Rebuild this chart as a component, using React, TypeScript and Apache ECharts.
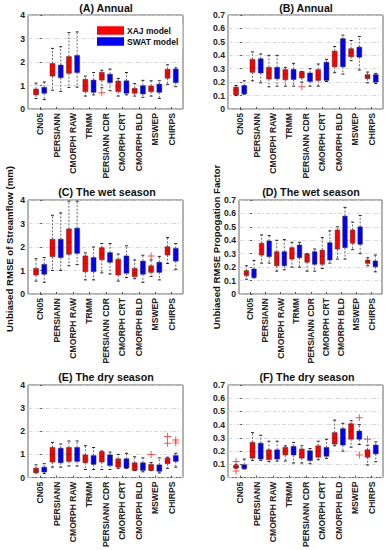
import React, { useEffect, useRef } from "react";
import * as echarts from "echarts";

const categories = ["CN05", "PERSIANN", "CMORPH RAW", "TRMM", "PERSIANN CDR", "CMORPH CRT", "CMORPH BLD", "MSWEP", "CHIRPS"];

// [min, q1, median, q3, max] per category
const annualXaj = [
  [0.45, 0.6, 0.72, 0.85, 1.1], [0.8, 1.4, 1.6, 1.94, 2.58], [0.92, 1.52, 1.8, 2.23, 3.25],
  [0.55, 0.74, 1.0, 1.26, 1.4], [0.9, 1.23, 1.42, 1.56, 1.65], [0.55, 0.74, 0.95, 1.19, 1.3],
  [0.55, 0.67, 0.8, 0.88, 1.08], [0.55, 0.74, 0.85, 0.98, 1.2], [1.05, 1.31, 1.5, 1.69, 1.88],
];
const annualSwat = [
  [0.4, 0.67, 0.8, 0.92, 1.15], [0.75, 1.33, 1.6, 1.87, 2.65], [0.93, 1.55, 1.9, 2.28, 3.28],
  [0.6, 0.71, 0.95, 1.23, 1.55], [0.78, 1.12, 1.3, 1.48, 1.7], [0.6, 0.67, 0.9, 1.2, 1.55],
  [0.5, 0.64, 0.82, 0.99, 1.22], [0.45, 0.71, 0.88, 1.06, 1.2], [0.95, 1.12, 1.45, 1.7, 1.75],
];
const annualXajOut = [[4, 0.69]];
const annualSwatOut: number[][] = [];

const annualPfXaj = [
  [0.1, 0.105, 0.14, 0.163, 0.175], [0.21, 0.273, 0.31, 0.37, 0.425], [0.165, 0.223, 0.27, 0.31, 0.4],
  [0.17, 0.218, 0.26, 0.293, 0.31], [0.2, 0.231, 0.26, 0.278, 0.28], [0.17, 0.213, 0.25, 0.293, 0.335],
  [0.27, 0.314, 0.4, 0.431, 0.465], [0.36, 0.389, 0.42, 0.449, 0.51], [0.195, 0.226, 0.24, 0.256, 0.275],
];
const annualPfSwat = [
  [0.11, 0.113, 0.14, 0.175, 0.21], [0.195, 0.268, 0.33, 0.374, 0.41], [0.17, 0.225, 0.27, 0.31, 0.4],
  [0.17, 0.22, 0.26, 0.295, 0.34], [0.17, 0.205, 0.24, 0.268, 0.3], [0.205, 0.213, 0.3, 0.348, 0.37],
  [0.26, 0.314, 0.42, 0.524, 0.55], [0.29, 0.386, 0.43, 0.461, 0.54], [0.19, 0.2, 0.23, 0.256, 0.265],
];
const annualPfXajOut = [[4, 0.165]];
const annualPfSwatOut: number[][] = [];

const wetXaj = [
  [0.55, 0.81, 0.95, 1.09, 1.5], [1.0, 1.59, 1.95, 2.33, 3.35], [1.2, 1.69, 2.2, 2.77, 3.95],
  [0.6, 0.95, 1.3, 1.62, 1.75], [0.9, 1.46, 1.7, 1.97, 2.15], [0.55, 0.81, 1.1, 1.48, 1.7],
  [0.65, 0.74, 0.9, 1.09, 1.45], [0.75, 0.92, 1.05, 1.2, 1.45], [1.3, 1.66, 1.85, 2.01, 2.4],
];
const wetSwat = [
  [0.5, 0.84, 1.05, 1.26, 1.55], [1.0, 1.55, 1.95, 2.33, 3.45], [1.25, 1.73, 2.3, 2.8, 3.95],
  [0.6, 0.95, 1.25, 1.55, 2.0], [0.85, 1.35, 1.55, 1.76, 2.15], [0.7, 0.88, 1.25, 1.62, 2.05],
  [0.5, 0.84, 1.1, 1.4, 1.65], [0.6, 0.92, 1.15, 1.35, 1.6], [1.05, 1.4, 1.7, 1.94, 2.15],
];
const wetXajOut = [[7, 1.62]];
const wetSwatOut: number[][] = [];

const wetPfXaj = [
  [0.11, 0.137, 0.155, 0.174, 0.21], [0.23, 0.29, 0.33, 0.378, 0.44], [0.17, 0.21, 0.27, 0.315, 0.4],
  [0.2, 0.26, 0.3, 0.345, 0.385], [0.17, 0.236, 0.27, 0.298, 0.3], [0.19, 0.221, 0.28, 0.327, 0.42],
  [0.26, 0.335, 0.42, 0.477, 0.5], [0.33, 0.378, 0.43, 0.477, 0.535], [0.21, 0.228, 0.24, 0.253, 0.27],
];
const wetPfSwat = [
  [0.12, 0.122, 0.15, 0.186, 0.25], [0.23, 0.278, 0.34, 0.395, 0.435], [0.18, 0.21, 0.27, 0.315, 0.405],
  [0.2, 0.27, 0.32, 0.365, 0.385], [0.17, 0.221, 0.27, 0.315, 0.335], [0.23, 0.253, 0.32, 0.382, 0.47],
  [0.26, 0.345, 0.47, 0.58, 0.645], [0.3, 0.37, 0.44, 0.5, 0.585], [0.165, 0.203, 0.22, 0.246, 0.29],
];
const wetPfXajOut: number[][] = [];
const wetPfSwatOut: number[][] = [];

const dryXaj = [
  [0.2, 0.21, 0.3, 0.41, 0.55], [0.45, 0.67, 1.0, 1.3, 1.52], [0.5, 0.7, 1.0, 1.3, 1.58],
  [0.35, 0.64, 0.8, 0.98, 1.38], [0.35, 0.67, 0.9, 1.12, 1.15], [0.4, 0.45, 0.65, 0.81, 1.0],
  [0.3, 0.31, 0.5, 0.64, 0.9], [0.3, 0.31, 0.45, 0.57, 0.65], [0.4, 0.6, 0.7, 0.84, 0.88],
];
const drySwat = [
  [0.18, 0.24, 0.35, 0.45, 0.6], [0.45, 0.64, 0.95, 1.27, 1.45], [0.5, 0.7, 1.0, 1.3, 1.58],
  [0.35, 0.57, 0.75, 0.95, 1.3], [0.35, 0.52, 0.75, 0.98, 1.1], [0.4, 0.41, 0.6, 0.81, 1.05],
  [0.25, 0.31, 0.5, 0.64, 0.85], [0.2, 0.27, 0.4, 0.55, 0.85], [0.45, 0.7, 0.8, 0.95, 1.05],
];
const dryXajOut = [[7, 1.0], [8, 1.78], [8, 1.48]];
const drySwatOut = [[8, 1.62], [8, 1.5]];

const dryPfXaj = [
  [0.07, 0.072, 0.085, 0.092, 0.1], [0.13, 0.147, 0.2, 0.266, 0.34], [0.12, 0.136, 0.17, 0.21, 0.275],
  [0.125, 0.171, 0.2, 0.228, 0.24], [0.11, 0.147, 0.18, 0.216, 0.24], [0.135, 0.154, 0.2, 0.24, 0.275],
  [0.24, 0.253, 0.3, 0.34, 0.435], [0.23, 0.29, 0.35, 0.407, 0.43], [0.095, 0.154, 0.18, 0.21, 0.245],
];
const dryPfSwat = [
  [0.065, 0.067, 0.085, 0.097, 0.14], [0.13, 0.14, 0.2, 0.26, 0.32], [0.125, 0.14, 0.17, 0.21, 0.275],
  [0.11, 0.171, 0.21, 0.236, 0.265], [0.105, 0.129, 0.16, 0.203, 0.22], [0.145, 0.161, 0.19, 0.228, 0.29],
  [0.2, 0.246, 0.3, 0.37, 0.41], [0.25, 0.29, 0.33, 0.352, 0.4], [0.12, 0.179, 0.21, 0.246, 0.27],
];
const dryPfXajOut = [[0, 0.121], [0, 0.05], [8, 0.29]];
const dryPfSwatOut = [[7, 0.452], [7, 0.17]];

const panelTitles = ["(A) Annual", "(B) Annual", "(C) The wet season", "(D) The wet season", "(E) The dry season", "(F) The dry season"];
const yMaxes = [4, 0.7, 4, 0.7, 4, 0.7];
const yIntervals = [1, 0.1, 1, 0.1, 1, 0.1];
const seriesNames = ["XAJ model", "SWAT model"];
const yTitleLeft = "Unbiased RMSE of Streamflow (mm)";
const yTitleRight = "Unbiased RMSE Propogation Factor";

const panelData = [
  [annualXaj, annualSwat, annualXajOut, annualSwatOut],
  [annualPfXaj, annualPfSwat, annualPfXajOut, annualPfSwatOut],
  [wetXaj, wetSwat, wetXajOut, wetSwatOut],
  [wetPfXaj, wetPfSwat, wetPfXajOut, wetPfSwatOut],
  [dryXaj, drySwat, dryXajOut, drySwatOut],
  [dryPfXaj, dryPfSwat, dryPfXajOut, dryPfSwatOut],
];

// layout (positions / styles)
const grids = [
  { left: 28, top: 15, width: 155, height: 94 },
  { left: 228, top: 15, width: 155, height: 94 },
  { left: 28, top: 200, width: 155, height: 94 },
  { left: 239, top: 200, width: 143, height: 94 },
  { left: 28, top: 385, width: 155, height: 94 },
  { left: 228, top: 385, width: 155, height: 94 },
];
const titlePos = [[106, 7.5], [306, 7.5], [107, 192], [311, 192], [106, 377], [307, 377]];
const COLORS = ["#ff0000", "#0000ff"];
const OFFSETS = [-0.25, 0.25];
const BOX_W = 0.3;
const FONT = 'Arial, "Liberation Sans", Helvetica, sans-serif';
const PLUS = "path://M4.3,0H5.7V4.3H10V5.7H5.7V10H4.3V5.7H0V4.3H4.3Z";

function renderBox(params: any, api: any) {
  const x = api.value(0);
  const pMin = api.coord([x, api.value(1)]);
  const pQ1 = api.coord([x, api.value(2)]);
  const pMed = api.coord([x, api.value(3)]);
  const pQ3 = api.coord([x, api.value(4)]);
  const pMax = api.coord([x, api.value(5)]);
  const w = api.size([BOX_W, 0])[0];
  const cx = pMin[0];
  const color = api.visual("color");
  const whisker = { stroke: "#444", lineWidth: 0.8, lineDash: [2, 1.5] };
  const cap = { stroke: "#222", lineWidth: 1 };
  return {
    type: "group",
    children: [
      { type: "line", shape: { x1: cx, y1: pQ3[1], x2: cx, y2: pMax[1] }, style: whisker },
      { type: "line", shape: { x1: cx, y1: pQ1[1], x2: cx, y2: pMin[1] }, style: whisker },
      { type: "line", shape: { x1: cx - 1.5, y1: pMax[1], x2: cx + 1.5, y2: pMax[1] }, style: cap },
      { type: "line", shape: { x1: cx - 1.5, y1: pMin[1], x2: cx + 1.5, y2: pMin[1] }, style: cap },
      {
        type: "rect",
        shape: { x: cx - w / 2, y: pQ3[1], width: w, height: pQ1[1] - pQ3[1] },
        style: { fill: color, stroke: "#333", lineWidth: 0.5 },
      },
      {
        type: "line",
        shape: { x1: cx - w / 2, y1: pMed[1], x2: cx + w / 2, y2: pMed[1] },
        style: { stroke: "rgba(0,0,0,0.25)", lineWidth: 0.8 },
      },
    ],
  };
}

export default function App() {
  const ref = useRef<HTMLDivElement>(null);
  useEffect(() => {
    if (!ref.current) return;
    const chart = echarts.init(ref.current, null, { renderer: "svg" });
    const series: any[] = [];
    const xAxis: any[] = [];
    const yAxis: any[] = [];
    panelData.forEach((pd, gi) => {
      xAxis.push({
        type: "value",
        gridIndex: gi,
        min: -0.74,
        max: 8.69,
        splitLine: { show: false },
        axisLine: { show: false },
        axisTick: { show: true, inside: true, length: 2, customValues: categories.map((_, i) => i), lineStyle: { color: "#555" } },
        axisLabel: {
          customValues: categories.map((_, i) => i),
          formatter: (v: number) => categories[Math.round(v)] ?? "",
          rotate: 90,
          fontSize: 8.6,
          fontWeight: "bold",
          fontFamily: FONT,
          color: "#222",
          margin: 4,
        },
      });
      yAxis.push({
        type: "value",
        gridIndex: gi,
        min: 0,
        max: yMaxes[gi],
        interval: yIntervals[gi],
        axisLine: { show: false },
        axisTick: { show: true, inside: true, length: 2, lineStyle: { color: "#555" } },
        axisLabel: { fontSize: 8.6, fontWeight: "bold", fontFamily: FONT, color: "#222", margin: 3 },
        splitLine: { show: true, lineStyle: { color: "#cfcfcf", width: 0.8, type: [4, 2, 1, 2] } },
      });
      for (let m = 0; m < 2; m++) {
        const boxes = pd[m] as number[][];
        series.push({
          type: "custom",
          name: seriesNames[m],
          xAxisIndex: gi,
          yAxisIndex: gi,
          itemStyle: { color: COLORS[m] },
          encode: { x: 0, y: [1, 2, 3, 4, 5] },
          renderItem: renderBox,
          data: boxes.map((d, i) => [i + OFFSETS[m], ...d]),
          z: 3,
        });
        const outs = pd[m + 2] as number[][];
        if (outs.length) {
          series.push({
            type: "scatter",
            name: "outlier" + gi + m,
            xAxisIndex: gi,
            yAxisIndex: gi,
            symbol: PLUS,
            symbolSize: 7,
            itemStyle: { color: "#ff2020" },
            data: outs.map((o) => [o[0] + OFFSETS[m], o[1]]),
            z: 4,
          });
        }
      }
    });

    const graphics: any[] = panelTitles.map((t, i) => ({
      type: "text",
      x: titlePos[i][0],
      y: titlePos[i][1],
      style: { text: t, fontSize: 10.7, fontWeight: "bold", fontFamily: FONT, fill: "#111", align: "center", verticalAlign: "middle" },
    }));
    graphics.push({
      type: "text",
      x: 9,
      y: 249,
      rotation: Math.PI / 2,
      style: { text: yTitleLeft, fontSize: 9.6, fontWeight: "bold", fontFamily: FONT, fill: "#111", align: "center", verticalAlign: "middle" },
    });
    graphics.push({
      type: "text",
      x: 216,
      y: 247,
      rotation: Math.PI / 2,
      style: { text: yTitleRight, fontSize: 9.6, fontWeight: "bold", fontFamily: FONT, fill: "#111", align: "center", verticalAlign: "middle" },
    });

    chart.setOption({
      animation: false,
      backgroundColor: "#fff",
      grid: grids.map((g) => ({ ...g, show: true, borderColor: "#666", borderWidth: 1, backgroundColor: "#fff", containLabel: false })),
      xAxis,
      yAxis,
      legend: {
        data: seriesNames,
        left: 94,
        top: 24,
        orient: "vertical",
        icon: "rect",
        itemWidth: 27,
        itemHeight: 8.5,
        itemGap: 2,
        padding: [2, 4, 2, 3],
        backgroundColor: "#fff",
        selectedMode: false,
        textStyle: { fontSize: 8.5, fontWeight: "bold", fontFamily: FONT, color: "#111", padding: [0, 0, 0, -2] },
        z: 10,
      },
      graphic: graphics,
      series,
    });
    return () => chart.dispose();
  }, []);
  return <div ref={ref} style={{ position: "fixed", left: 0, top: 0, width: 387, height: 550 }} />;
}
